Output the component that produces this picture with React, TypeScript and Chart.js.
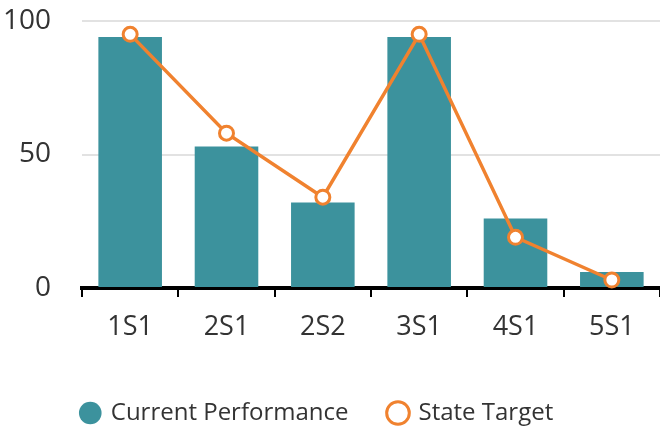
import React, { useEffect, useRef } from "react";
import { Chart, registerables } from "chart.js";

Chart.register(...registerables);

const categories = ["1S1", "2S1", "2S2", "3S1", "4S1", "5S1"];
const currentPerformance = [94, 53, 32, 94, 26, 6];
const stateTarget = [95, 58, 34, 95, 19, 3];
const yTicks = [0, 50, 100];

const TEAL = "#3c929d";
const ORANGE = "#f0822f";
const FONT = "'Open Sans', sans-serif";

const legendShift = {
  id: "legendShift",
  afterLayout(chart: any) {
    if (chart.legend) chart.legend.left -= 25;
  },
};

export default function App() {
  const ref = useRef<HTMLCanvasElement | null>(null);

  useEffect(() => {
    document.body.style.margin = "0";
    const canvas = ref.current;
    if (!canvas) return;
    const chart = new Chart(canvas, {
      data: {
        labels: categories,
        datasets: [
          {
            type: "line",
            label: "State Target",
            data: stateTarget,
            borderColor: ORANGE,
            backgroundColor: "#ffffff",
            borderWidth: 3.5,
            pointRadius: 7,
            pointBorderWidth: 3,
            pointBackgroundColor: "#ffffff",
            pointBorderColor: ORANGE,
            tension: 0,
            clip: false,
            order: 0,
          },
          {
            type: "bar",
            label: "Current Performance",
            data: currentPerformance,
            backgroundColor: TEAL,
            borderWidth: 0,
            barPercentage: 0.66,
            categoryPercentage: 1,
            order: 1,
          },
        ],
      } as any,
      plugins: [legendShift],
      options: {
        responsive: false,
        animation: false,
        layout: { autoPadding: false, padding: { top: 21, right: 0, left: 0, bottom: -7 } },
        plugins: {
          tooltip: { enabled: false },
          legend: {
            position: "bottom",
            reverse: true,
            labels: {
              usePointStyle: true,
              boxHeight: 16,
              boxWidth: 17,
              color: "#333333",
              padding: 41,
              font: { family: FONT, size: 24 },
            },
          },
        },
        scales: {
          x: {
            afterFit: (scale: any) => {
              scale.height = 72;
              scale.paddingLeft = 0;
              scale.paddingRight = 0;
            },
            grid: {
              drawOnChartArea: false,
              drawTicks: true,
              tickLength: 9,
              color: "#000000",
              lineWidth: 2,
            },
            border: { display: true, color: "#000000", width: 4 },
            ticks: {
              color: "#333333",
              font: { family: FONT, size: 27 },
              padding: 14,
            },
          },
          y: {
            min: 0,
            max: 100,
            afterFit: (scale: any) => {
              scale.width = 82;
              scale.paddingTop = 0;
              scale.paddingBottom = 0;
            },
            afterBuildTicks: (scale: any) => {
              scale.ticks = yTicks.map((v) => ({ value: v }));
            },
            grid: { color: "#e2e2e2", lineWidth: 2, drawTicks: false },
            border: { display: false },
            ticks: {
              color: "#333333",
              font: { family: FONT, size: 28 },
              padding: 31,
            },
          },
        },
      },
    });
    return () => chart.destroy();
  }, []);

  return <canvas ref={ref} width={660} height={428} style={{ display: "block" }} />;
}
